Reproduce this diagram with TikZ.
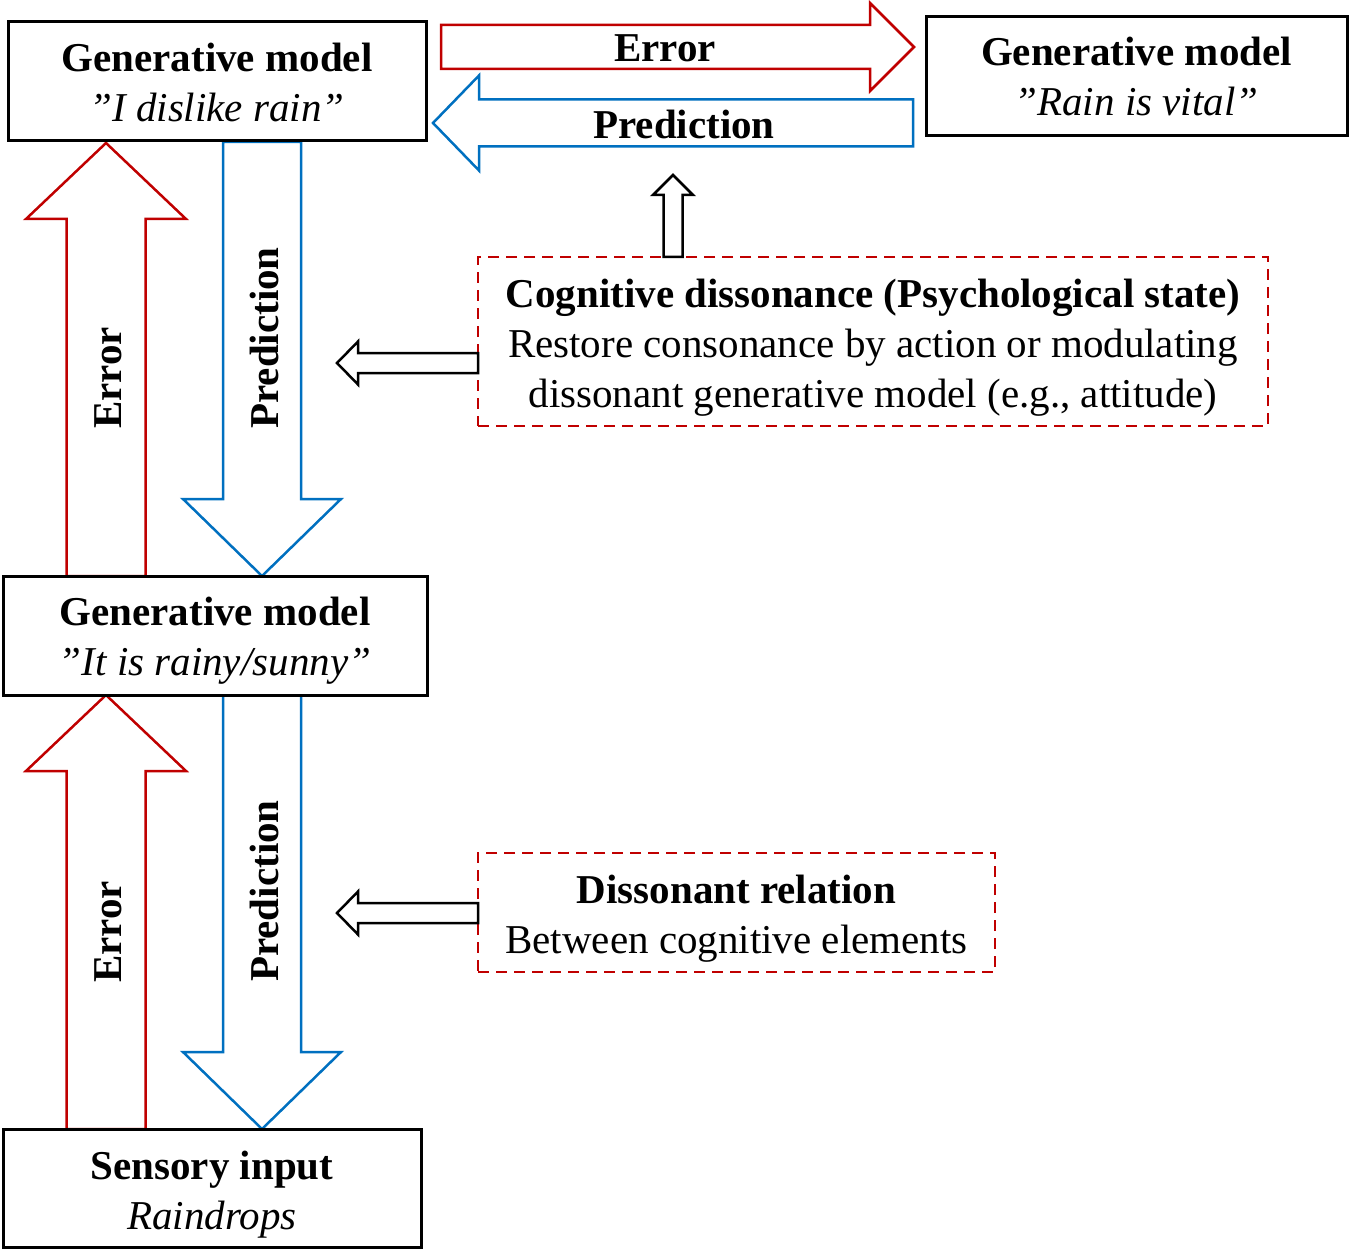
\documentclass[tikz,border=0pt]{standalone}
\usepackage{fontspec}
\setmainfont{Liberation Serif}
\definecolor{errred}{RGB}{192,0,0}
\definecolor{predblue}{RGB}{0,112,192}
\newcommand{\hblk}[7]{% style, yc, xtail, xbase, xtip, shafthalf, headhalf
  \draw[#1] (#3,#2-#6) -- (#4,#2-#6) -- (#4,#2-#7) -- (#5,#2) -- (#4,#2+#7) -- (#4,#2+#6) -- (#3,#2+#6) -- cycle;}
\newcommand{\vblk}[7]{% style, xc, ytail, ybase, ytip, shafthalf, headhalf
  \draw[#1] (#2-#6,#3) -- (#2-#6,#4) -- (#2-#7,#4) -- (#2,#5) -- (#2+#7,#4) -- (#2+#6,#4) -- (#2+#6,#3) -- cycle;}
\newcommand{\tpad}[1]{\rule{0pt}{#1pt}}
\begin{document}
\begin{tikzpicture}[x=1pt,y=-1pt,
  txt/.style={font=\fontsize{41}{50}\selectfont},
  modelbox/.style={draw=black,line width=3pt,fill=white,inner sep=0pt,align=center,txt},
  dissbox/.style={draw=errred,line width=2.8pt,dash pattern=on 11pt off 7pt,inner sep=0pt,align=center,txt},
  redarr/.style={draw=errred,line width=2.5pt,line join=miter,fill=white},
  bluearr/.style={draw=predblue,line width=2.5pt,line join=miter,fill=white},
  blkarr/.style={draw=black,line width=2.5pt,line join=miter,fill=white},
  lbl/.style={txt,font=\fontsize{41}{50}\selectfont\bfseries,inner sep=0pt}]
\useasboundingbox[fill=white] (0,0) rectangle (1350,1252);

% arrows first (under boxes)
\vblk{redarr}{106}{576}{219}{143}{39.5}{80}
\vblk{bluearr}{262}{142}{499}{576}{39}{79}
\vblk{redarr}{106}{1129}{771}{695}{39.5}{80}
\vblk{bluearr}{262}{695}{1052}{1129}{39}{79}
\hblk{redarr}{47}{441}{870}{914}{22}{44}
\hblk{bluearr}{123}{913}{479}{433}{23.5}{47.5}

% boxes
\node[modelbox,minimum width=418pt,minimum height=119pt] (A) at (217,81.5)
  {{\bfseries\tpad{30}Generative model}\\{\itshape ”I dislike rain”}};
\node[modelbox,minimum width=421pt,minimum height=119pt] (B) at (1136.5,76.5)
  {{\bfseries Generative model}\\{\itshape ”Rain is vital”}};
\node[modelbox,minimum width=424pt,minimum height=119pt] (C) at (215,635.5)
  {{\bfseries\tpad{38}Generative model}\\{\itshape ”It is rainy/sunny”}};
\node[modelbox,minimum width=418pt,minimum height=118pt] (D) at (212,1188)
  {{\bfseries\tpad{42}Sensory input}\\{\itshape Raindrops}};
\node[dissbox,minimum width=790pt,minimum height=169pt] (S) at (873,341.5)
  {{\bfseries\tpad{40}Cognitive dissonance (Psychological state)}\\Restore consonance by action or modulating\\dissonant generative model (e.g., attitude)};
\node[dissbox,minimum width=517pt,minimum height=119pt] (R) at (736.5,912.5)
  {{\bfseries\tpad{40}Dissonant relation}\\Between cognitive elements};

% small black arrows
\vblk{blkarr}{673}{257}{195}{175}{9.5}{20}
\hblk{blkarr}{363}{478}{358}{337}{10}{21.5}
\hblk{blkarr}{913}{478}{358}{337}{10}{21.5}

% labels
\node[lbl,rotate=90] (e1) at (108,378) {Error};
\node[lbl,rotate=90] (p1) at (264,338) {Prediction};
\node[lbl,rotate=90] (e2) at (108,932) {Error};
\node[lbl,rotate=90] (p2) at (264,891) {Prediction};
\node[lbl] (e3) at (665,48) {Error};
\node[lbl] (p3) at (684,124) {Prediction};
\end{tikzpicture}
\end{document}
